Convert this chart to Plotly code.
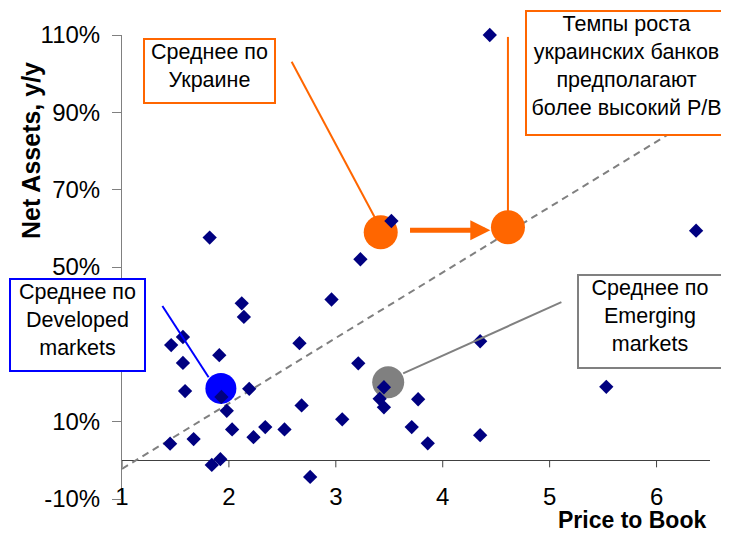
import plotly.graph_objects as go

# =========================
# DATA
# =========================
price_to_book = [4.44, 1.82, 3.52, 6.37, 3.23, 2.96, 2.12, 2.14, 1.57, 1.46,
                 2.66, 4.35, 1.57, 1.91, 3.21, 1.59, 1.93, 2.19, 3.45, 1.98,
                 2.68, 5.53, 3.41, 3.45, 3.77, 3.06, 2.03, 2.34, 2.52, 2.23,
                 1.45, 1.67, 3.71, 3.86, 4.35, 1.92, 1.84, 2.76]
net_assets_growth = [110.0, 57.6, 61.9, 59.4, 52.0, 41.6, 40.6, 37.1, 31.9, 29.8,
                     30.3, 30.8, 25.2, 27.2, 25.1, 17.9, 16.4, 18.5, 18.9, 12.8,
                     14.2, 19.0, 15.9, 13.7, 15.8, 10.6, 8.0, 8.6, 8.0, 6.0,
                     4.3, 5.5, 8.6, 4.4, 6.5, 0.3, -1.2, -4.3]

# averages: Ukraine, Ukraine (target), Developed, Emerging
avg_names = ["Ukraine", "Ukraine (target)", "Developed", "Emerging"]
avg_pb = [3.42, 4.61, 1.925, 3.49]
avg_growth = [59.0, 60.3, 18.6, 20.2]
avg_colors = ["#FF6600", "#FF6600", "#0000FF", "#808080"]
avg_sizes = [34, 34, 31, 32]

# trend line (dashed)
trend_pb = [1.0, 6.5]
trend_growth = [-2.2, 90.9]

x_ticks = [1, 2, 3, 4, 5, 6]
# 30% sits behind the "Developed" callout in the original, so it is left out
y_ticks = [-10, 10, 50, 70, 90, 110]
y_tick_text = ["-10%", "10%", "50%", "70%", "90%", "110%"]

FONT = "Arial, Liberation Sans, sans-serif"

fig = go.Figure()

fig.add_trace(go.Scatter(
    x=trend_pb, y=trend_growth, mode="lines",
    line=dict(color="#808080", width=2, dash="7px,5px"),
    hoverinfo="skip", cliponaxis=False,
))
fig.add_trace(go.Scatter(
    x=avg_pb, y=avg_growth, mode="markers", text=avg_names,
    marker=dict(color=avg_colors, size=avg_sizes, opacity=1, line=dict(width=0)),
    cliponaxis=False,
))
fig.add_trace(go.Scatter(
    x=price_to_book, y=net_assets_growth, mode="markers",
    marker=dict(symbol="diamond", color="#000080", size=11, opacity=1, line=dict(width=0)),
    cliponaxis=False,
))

# callout connector lines (label box -> average point)
connectors = [
    ((2.587, 103.1), (3.40, 61.0), "#FF6600"),
    ((4.61, 109.5), (4.61, 64.0), "#FF6600"),
    ((1.378, 39.9), (1.81, 21.5), "#0000FF"),
    ((3.63, 22.5), (5.11, 40.9), "#808080"),
]
for (x0, y0), (x1, y1), col in connectors:
    fig.add_shape(type="line", x0=x0, y0=y0, x1=x1, y1=y1, xref="x", yref="y",
                  line=dict(color=col, width=2))

# x-axis tick marks hanging from y = 0
for t in x_ticks:
    fig.add_shape(type="line", xref="x", yref="y", ysizemode="pixel", yanchor=0,
                  x0=t, x1=t, y0=0, y1=-7, line=dict(color="#404040", width=1))

# arrow Ukraine -> target
fig.add_annotation(x=4.445, y=59.5, ax=3.68, ay=59.5, xref="x", yref="y",
                   axref="x", ayref="y", text="", showarrow=True,
                   arrowhead=2, arrowsize=0.8, arrowwidth=5, arrowcolor="#FF6600")

boxes = [
    ("Среднее по<br>Украине", 0.1488, 0.922, 129, 62, "#FF6600"),
    ("Темпы роста<br>украинских банков<br>предполагают<br>более высокий P/B",
     0.858, 0.918, 199, 122, "#FF6600"),
    ("Среднее по<br>Developed<br>markets", -0.0757, 0.3746, 133, 90, "#0000FF"),
    ("Среднее по<br>Emerging<br>markets", 0.898, 0.382, 142, 91, "#808080"),
]
for txt, bx, by, w, h, col in boxes:
    fig.add_annotation(x=bx, y=by, xref="paper", yref="paper", text=txt, showarrow=False,
                       width=w, height=h, valign="top", align="center",
                       xanchor="center", yanchor="middle",
                       bgcolor="white", bordercolor=col, borderwidth=2, borderpad=0,
                       font=dict(family=FONT, size=21.5, color="black"))

# axis titles
fig.add_annotation(x=-0.155, y=0.752, xref="paper", yref="paper", text="<b>Net Assets, y/y</b>",
                   textangle=-90, showarrow=False, xanchor="center", yanchor="middle",
                   font=dict(family=FONT, size=25, color="black"))
fig.add_annotation(x=0.997, y=-0.046, xref="paper", yref="paper", text="<b>Price to Book</b>",
                   showarrow=False, xanchor="right", yanchor="middle",
                   font=dict(family=FONT, size=23, color="black"))

# page body has an 8px margin, so the figure is 8px smaller than the window
fig.update_layout(
    width=721, height=525,
    margin=dict(l=114, r=19, t=27, b=34),
    plot_bgcolor="white", paper_bgcolor="white",
    showlegend=False,
    font=dict(family=FONT, size=24, color="black"),
)
fig.update_xaxes(
    range=[1, 6.5], tickvals=x_ticks, ticks="", showline=False, showgrid=False,
    zeroline=False, ticklabelstandoff=-19, tickfont=dict(size=24),
)
fig.update_yaxes(
    range=[-10, 110], tickvals=y_ticks, ticktext=y_tick_text, ticks="outside", ticklen=9,
    tickcolor="#808080", showline=True, linecolor="#808080", linewidth=1,
    showgrid=False, zeroline=True, zerolinecolor="#404040", zerolinewidth=1,
    ticklabelstandoff=7, tickfont=dict(size=24),
)

fig.write_html("out.html")
